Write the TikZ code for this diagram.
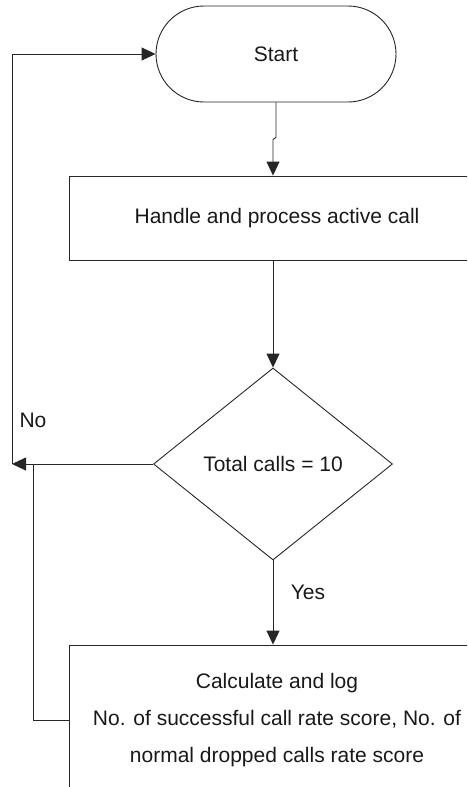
\documentclass[tikz,border=0pt]{standalone}
\usepackage{fontspec}
\setmainfont{Liberation Sans}
\usetikzlibrary{arrows.meta,shapes.geometric,calc}

\begin{document}
\begin{tikzpicture}[x=1pt,y=-1pt,
  line/.style={draw=black!85, line width=0.9pt},
  arrow/.style={line, -{Triangle[length=14pt,width=13pt]}},
  txt/.style={font=\fontsize{21}{37}\selectfont, text=black!90},
  terminal/.style={txt, line, rectangle, rounded corners=48pt,
    minimum width=240pt, minimum height=96pt, inner sep=0pt},
  process/.style={txt, line, rectangle, minimum width=416pt, inner sep=0pt},
  decision/.style={txt, line, diamond, aspect=1.245,
    minimum width=239pt, minimum height=192pt, inner sep=0pt},
  tag/.style={txt, inner sep=0pt}
]
\useasboundingbox (0,0) rectangle (467,787);
\clip (0,0) rectangle (467,787);

% flowchart nodes
\node[terminal] (start) at (276,54) {Start};
\node[process, minimum height=84pt] (handle) at (277,218)
  {Handle and process active call};
\node[decision] (total) at (273,464) {Total calls = 10};
\node[process, minimum height=150pt, align=center] (log) at (277,720)
  {Calculate and log\\No. of successful call rate score, No. of\\normal dropped calls rate score};

% branch labels
\node[tag] (no) at (33,420) {No};
\node[tag] (yes) at (308,592) {Yes};

% loop-back points on the left
\coordinate (loop) at (12,464);
\coordinate (ret) at (33,464);

% connectors
\draw[arrow] (start.south) -- ++(0,35) -- ++(-3,2) -- (handle.north -| total.north);
\draw[arrow] (handle.south -| total.north) -- (total.north);
\draw[arrow] (total.west) -- (loop);
\draw[arrow] (loop) |- (start.west);
\draw[arrow] (total.south) -- (total.south |- log.north);
\draw[line] (log.west) -| (ret);
\end{tikzpicture}
\end{document}
